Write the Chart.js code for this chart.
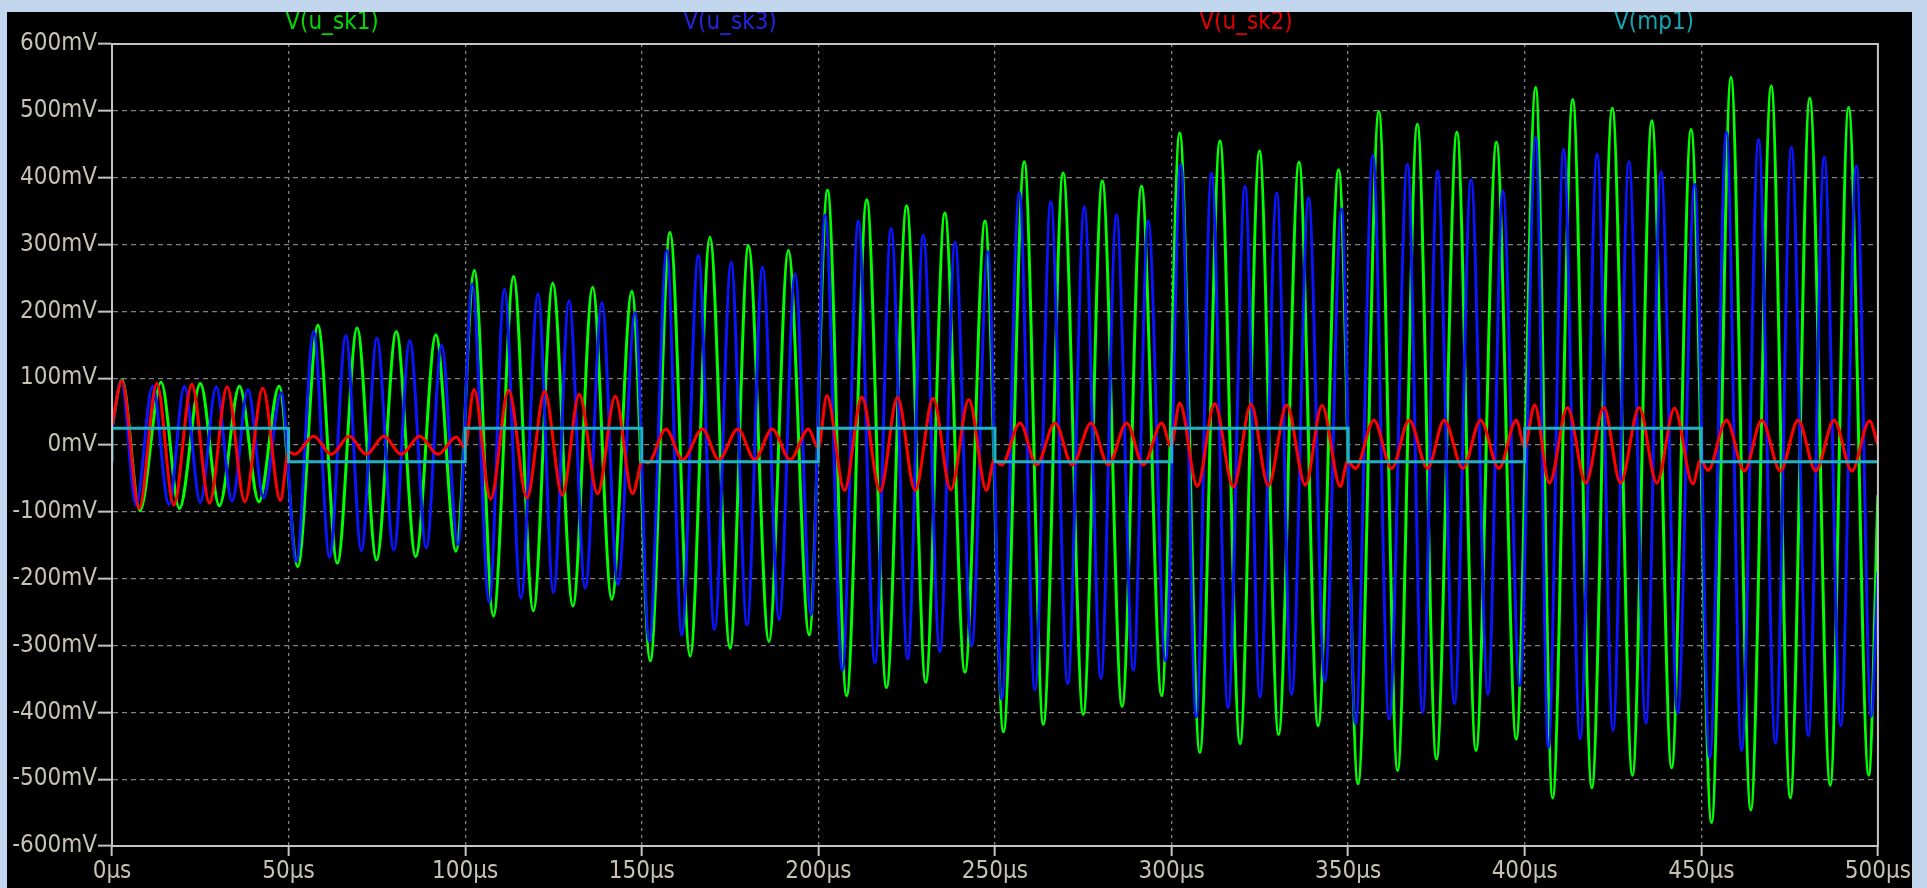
<!DOCTYPE html>
<html lang="en">
<head>
<meta charset="UTF-8">
<title>V(u_sk1) V(u_sk3) V(u_sk2) V(mp1)</title>
<script src="https://cdn.jsdelivr.net/npm/chart.js"></script>
<style>
  html, body {
    margin: 0;
    padding: 0;
    width: 1927px;
    height: 888px;
    overflow: hidden;
    background: #c2d7ee;
  }
  #plot {
    position: absolute;
    left: 7px;
    top: 12px;
    width: 1905px;
    height: 876px;
    background: #000;
  }
</style>
</head>
<body>
<div id="plot"><canvas id="chart" width="1905" height="876" style="width:1905px;height:876px"></canvas></div>
<script>
  // extrema of each trace: time in µs, value in mV
  const uSk1Time = [0, 2.8, 7.9, 13.9, 19.1, 25.0, 30.4, 36.1, 41.6, 47.3,
    52.6, 58.3, 63.8, 69.4, 74.9, 80.5, 86.0, 91.7, 97.4,
    102.6, 108.0, 113.7, 119.3, 124.8, 130.5, 136.1, 141.5, 147.2,
    152.4, 158.0, 163.7, 169.3, 175.0, 180.2, 186.0, 191.5, 197.4,
    202.6, 208.0, 213.7, 219.3, 225.0, 230.4, 235.8, 241.5, 247.2,
    252.4, 258.3, 263.7, 269.3, 275.0, 280.4, 286.0, 291.5, 297.2,
    302.3, 308.0, 313.7, 319.4, 324.9, 330.3, 336.1, 341.5, 347.3,
    352.8, 358.7, 364.0, 369.6, 375.0, 380.8, 386.2, 392.0, 397.6,
    403.1, 407.9, 413.6, 419.0, 424.8, 430.5, 436.0, 441.6, 447.1,
    452.9, 458.4, 464.0, 469.8, 475.2, 480.7, 486.5, 491.7, 497.4, 500];
  const uSk1Volt = [25, 98, -98, 94, -95, 92, -91, 88, -85, 88,
    -182, 179, -177, 175, -172, 170, -167, 165, -159,
    261, -256, 252, -248, 242, -241, 236, -231, 230,
    -323, 318, -316, 311, -304, 298, -294, 291, -284,
    381, -375, 367, -363, 358, -355, 347, -340, 335,
    -429, 424, -418, 407, -403, 395, -391, 387, -375,
    467, -460, 455, -447, 440, -433, 423, -420, 412,
    -507, 499, -487, 480, -470, 468, -457, 453, -440,
    535, -528, 517, -513, 504, -494, 485, -483, 472,
    -565, 550, -546, 537, -528, 519, -509, 505, -494, -75];

  const uSk3Time = [0, 2.6, 6.8, 11.5, 16.1, 20.5, 25.0, 29.5, 34.0, 38.5, 42.9, 47.9,
    52.2, 57.1, 61.6, 66.2, 70.6, 75.0, 79.8, 84.3, 89.0, 93.3, 98.0,
    102.0, 106.8, 111.1, 115.8, 120.6, 125.0, 129.4, 134.0, 138.7, 143.2, 148.1,
    152.1, 157.1, 161.3, 166.0, 170.6, 175.3, 179.8, 184.2, 188.9, 193.4, 197.9,
    201.9, 206.8, 211.3, 216.0, 220.6, 225.3, 229.7, 234.4, 238.7, 243.4, 248.0,
    251.9, 256.9, 261.3, 265.8, 270.6, 275.3, 280.0, 284.4, 289.2, 293.4, 298.3,
    302.6, 307.0, 311.3, 316.0, 320.8, 325.0, 329.8, 334.0, 338.8, 343.4, 348.1,
    352.1, 357.0, 361.6, 366.8, 371.1, 375.3, 380.1, 384.8, 389.6, 393.8, 398.6,
    403.1, 406.7, 411.0, 415.7, 420.5, 425.0, 429.5, 434.3, 438.6, 443.3, 448.1,
    452.4, 457.1, 461.4, 466.2, 471.0, 475.5, 480.3, 484.8, 489.5, 493.9, 498.1, 500];
  const uSk3Volt = [25, 96, -90, 88, -89, 88, -86, 87, -84, 83, -79, 78,
    -174, 170, -168, 164, -158, 160, -157, 156, -154, 149, -149,
    241, -236, 233, -229, 226, -221, 216, -214, 213, -209, 198,
    -294, 291, -284, 283, -276, 273, -269, 266, -261, 256, -254,
    344, -337, 335, -326, 324, -320, 314, -309, 303, -300, 289,
    -380, 378, -366, 364, -357, 356, -349, 344, -337, 335, -323,
    420, -407, 407, -393, 387, -377, 377, -373, 370, -353, 353,
    -417, 433, -410, 420, -400, 410, -387, 397, -373, 380, -360,
    460, -453, 442, -439, 435, -427, 424, -416, 409, -401, 390,
    -468, 468, -457, 457, -446, 446, -435, 431, -420, 418, -406, -190];

  const uSk2Time = [0, 2.8, 7.7, 12.7, 17.5, 22.6, 27.6, 32.6, 37.6, 42.7, 47.7,
    50.0, 51.7, 57.1, 62.1, 67.2, 72.0, 77.0, 81.9, 87.1, 92.3, 97.5,
    99.9, 102.5, 107.2, 112.3, 117.5, 122.5, 127.5, 132.3, 137.5, 142.5, 147.4,
    150.2, 151.8, 156.8, 161.6, 167.2, 171.8, 177.2, 182.0, 186.9, 192.0, 197.2,
    200.0, 202.4, 207.4, 212.3, 217.5, 222.4, 227.4, 232.5, 237.5, 242.6, 247.6,
    249.8, 251.9, 257.1, 261.8, 267.0, 271.9, 277.2, 282.1, 287.3, 292.0, 297.2,
    299.9, 302.3, 307.3, 312.2, 317.5, 322.5, 327.4, 332.6, 337.9, 342.6, 347.8,
    349.8, 352.1, 357.3, 362.3, 367.3, 372.5, 377.2, 382.5, 387.5, 392.7, 397.6,
    400.0, 402.8, 407.0, 412.1, 417.3, 422.4, 427.1, 432.4, 437.4, 442.4, 447.6,
    449.8, 451.9, 457.1, 462.2, 467.1, 472.4, 477.4, 482.4, 487.6, 492.6, 497.6, 500];
  const uSk2Volt = [30, 96, -95, 92, -90, 91, -87, 87, -85, 85, -83,
    -10, -14, 13, -14, 13, -14, 13, -14, 13, -14, 12,
    -4, 83, -81, 82, -79, 80, -75, 76, -73, 73, -73,
    -24, -27, 24, -22, 24, -22, 24, -22, 24, -22, 24,
    -5, 74, -68, 72, -69, 71, -68, 70, -67, 68, -68,
    -22, -30, 33, -30, 33, -30, 33, -30, 33, -30, 33,
    -2, 63, -62, 62, -63, 61, -61, 60, -60, 59, -62,
    -25, -35, 37, -35, 37, -35, 37, -35, 37, -35, 37,
    -3, 60, -57, 56, -57, 56, -57, 56, -57, 55, -58,
    -22, -38, 37, -39, 37, -39, 37, -39, 37, -39, 36, 0];

  // V(mp1) is a square wave: level held between the switching times
  const mp1Edges = [0, 50, 100, 150, 200, 250, 300, 350, 400, 450, 500];
  const mp1Level = [25, -25, 25, -25, 25, -25, 25, -25, 25, -25];
  const mp1Start = -25;

  const xTicks = [0, 50, 100, 150, 200, 250, 300, 350, 400, 450, 500];
  const yTicks = [-600, -500, -400, -300, -200, -100, 0, 100, 200, 300, 400, 500, 600];

  const traceNames = ['V(u_sk1)', 'V(u_sk3)', 'V(u_sk2)', 'V(mp1)'];
  const traceColors = ['#00ff00', '#0a14ff', '#ff0000', '#1eb2c4'];
  const titleColors = ['#00d800', '#2424e0', '#e00000', '#12a6b4'];

  function toPoints(t, v) {
    return t.map((x, i) => ({ x: x, y: v[i] }));
  }

  const mp1Points = [{ x: mp1Edges[0], y: mp1Start }];
  for (let i = 0; i < mp1Level.length; i++) {
    mp1Points.push({ x: mp1Edges[i], y: mp1Level[i] });
    mp1Points.push({ x: mp1Edges[i + 1], y: mp1Level[i] });
  }

  const labelFont = { family: '"DejaVu Sans Condensed", "DejaVu Sans", sans-serif', size: 24 };

  // trace names above the plot, like the LTspice header
  const titlePlugin = {
    id: 'titles',
    afterDraw(chart) {
      const ctx = chart.ctx;
      const xs = [325, 723, 1239, 1647];
      ctx.save();
      ctx.font = '24px "DejaVu Sans Condensed", "DejaVu Sans", sans-serif';
      ctx.textAlign = 'center';
      ctx.textBaseline = 'middle';
      traceNames.forEach((name, i) => {
        ctx.fillStyle = titleColors[i];
        ctx.fillText(name, xs[i], 11);
      });
      ctx.restore();
    }
  };

  // solid frame round the plot area
  const framePlugin = {
    id: 'frame',
    afterDraw(chart) {
      const a = chart.chartArea;
      const ctx = chart.ctx;
      ctx.save();
      ctx.strokeStyle = '#c4c4c4';
      ctx.lineWidth = 2;
      ctx.strokeRect(a.left, a.top, a.right - a.left, a.bottom - a.top);
      ctx.restore();
    }
  };

  function trace(name, pts, color, smooth) {
    const ds = {
      label: name,
      data: pts,
      borderColor: color,
      borderWidth: 3,
      pointRadius: 0
    };
    if (smooth) ds.cubicInterpolationMode = 'monotone';
    else ds.tension = 0;
    return ds;
  }

  new Chart(document.getElementById('chart').getContext('2d'), {
    type: 'line',
    data: {
      // first dataset is painted last, so mp1 ends up on top like in LTspice
      datasets: [
        trace(traceNames[3], mp1Points, traceColors[3], false),
        trace(traceNames[2], toPoints(uSk2Time, uSk2Volt), traceColors[2], true),
        trace(traceNames[1], toPoints(uSk3Time, uSk3Volt), traceColors[1], true),
        trace(traceNames[0], toPoints(uSk1Time, uSk1Volt), traceColors[0], true)
      ]
    },
    options: {
      responsive: false,
      animation: false,
      devicePixelRatio: 1,
      layout: { padding: { left: 0, top: 32, right: 34, bottom: 0 } },
      plugins: {
        legend: { display: false },
        tooltip: { enabled: false }
      },
      scales: {
        x: {
          type: 'linear',
          min: 0,
          max: 500,
          afterFit: s => { s.height = 42; },
          afterBuildTicks: s => { s.ticks = xTicks.map(v => ({ value: v })); },
          ticks: {
            color: '#c8c2b4',
            font: labelFont,
            padding: 1,
            maxRotation: 0,
            callback: v => v + 'µs'
          },
          grid: {
            color: '#808080',
            lineWidth: 1.3,
            tickColor: '#c4c4c4',
            tickWidth: 2,
            tickLength: 10
          },
          border: { color: '#c4c4c4', width: 2, dash: [3, 4] }
        },
        y: {
          min: -600,
          max: 600,
          afterFit: s => { s.width = 105; },
          afterBuildTicks: s => { s.ticks = yTicks.map(v => ({ value: v })); },
          ticks: {
            color: '#c8c2b4',
            font: labelFont,
            padding: 1,
            callback: v => v + 'mV'
          },
          grid: {
            color: '#808080',
            lineWidth: 1.3,
            tickColor: '#c4c4c4',
            tickWidth: 2,
            tickLength: 14
          },
          border: { color: '#c4c4c4', width: 2, dash: [5, 4] }
        }
      }
    },
    plugins: [titlePlugin, framePlugin]
  });
</script>
</body>
</html>
